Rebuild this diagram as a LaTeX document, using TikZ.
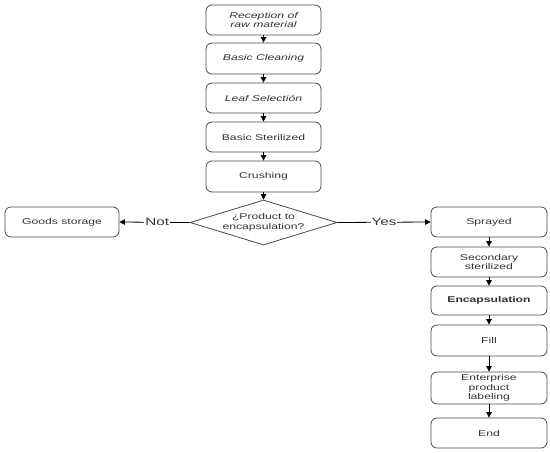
\documentclass[tikz,border=0pt]{standalone}
\usepackage{fontspec}
\setmainfont{Liberation Sans}[FakeStretch=1.45]
\usetikzlibrary{shapes.geometric,arrows.meta}
\definecolor{boxline}{HTML}{4A4A4A}
\definecolor{boxtext}{HTML}{333333}
\tikzset{
  procbox/.style={draw=boxline, line width=0.8pt, rounded corners=6pt, align=center,
    text=boxtext, font=\fontsize{8.4}{9.5}\selectfont, inner sep=0pt},
  decbox/.style={draw=boxline, line width=0.8pt, shape=diamond, aspect=3.27, align=center,
    text=boxtext, font=\fontsize{8.4}{9.5}\selectfont, inner sep=0pt,
    minimum width=147pt, minimum height=45pt},
  flow/.style={draw=black, line width=0.8pt, -{Triangle[width=5.5pt,length=5.5pt]}},
  lbl/.style={fill=white, inner sep=1pt, font=\fontsize{10.5}{12}\selectfont, text=boxtext}
}
\begin{document}
\begin{tikzpicture}[x=1pt,y=-1pt]
\useasboundingbox (0,0) rectangle (550,453);
% left column
\node[procbox, minimum width=115pt, minimum height=30pt] (b1) at (263.5,20) {\itshape Reception of\\\itshape raw material};
\node[procbox, minimum width=115pt, minimum height=31pt] (b2) at (263.5,58.5) {\itshape Basic Cleaning};
\node[procbox, minimum width=115pt, minimum height=30pt] (b3) at (263.5,98) {\itshape Leaf Selectión};
\node[procbox, minimum width=115pt, minimum height=30pt] (b4) at (263.5,137) {Basic Sterilized};
\node[procbox, minimum width=115pt, minimum height=31pt] (b5) at (263.5,176.5) {Crushing};
\node[decbox] (d) at (263.5,222.5) {¿Product to\\encapsulation?};
\node[procbox, minimum width=114pt, minimum height=30pt] (gs) at (62,222) {Goods storage};
% right column
\node[procbox, minimum width=116pt, minimum height=30pt] (r1) at (489,222) {Sprayed};
\node[procbox, minimum width=116pt, minimum height=30pt] (r2) at (489,262) {Secondary\\sterilized};
\node[procbox, minimum width=116pt, minimum height=29pt] (r3) at (489,300.5) {\bfseries Encapsulation};
\node[procbox, minimum width=116pt, minimum height=31pt] (r4) at (489,340.5) {Fill};
\node[procbox, minimum width=116pt, minimum height=32pt] (r5) at (489,388) {Enterprise\\product\\labeling};
\node[procbox, minimum width=116pt, minimum height=30pt] (r6) at (489,433) {End};
% connectors
\draw[flow] (b1) -- (b2);
\draw[flow] (b2) -- (b3);
\draw[flow] (b3) -- (b4);
\draw[flow] (b4) -- (b5);
\draw[flow] (b5) -- (d);
\draw[flow] (d.west) -- node[lbl, pos=0.46] {Not} (gs.east);
\draw[flow] (d.east) -- node[lbl, pos=0.5] {Yes} (r1.west);
\draw[flow] (r1) -- (r2);
\draw[flow] (r2) -- (r3);
\draw[flow] (r3) -- (r4);
\draw[flow] (r4) -- (r5);
\draw[flow] (r5) -- (r6);
\end{tikzpicture}
\end{document}
